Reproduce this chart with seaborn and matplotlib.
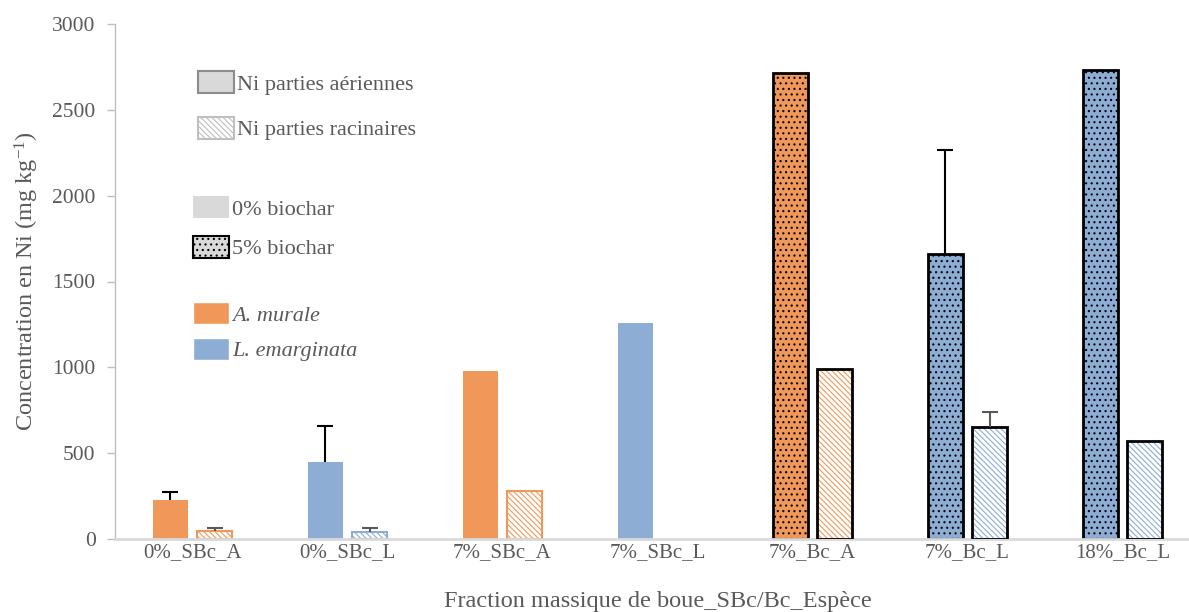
import numpy as np
import pandas as pd
import matplotlib
matplotlib.use("Agg")
import matplotlib.pyplot as plt
from matplotlib.patches import Patch, Rectangle
import seaborn as sns

# data
categories = ["0%_SBc_A", "0%_SBc_L", "7%_SBc_A", "7%_SBc_L", "7%_Bc_A", "7%_Bc_L", "18%_Bc_L"]
species = ["A", "L", "A", "L", "A", "L", "L"]
biochar = [0, 0, 0, 0, 5, 5, 5]
aerial = [225, 450, 978, 1260, 2712, 1660, 2730]
aerial_err = [50, 210, np.nan, np.nan, np.nan, 605, np.nan]
root = [45, 40, 280, 0, 990, 650, 572]
root_err = [20, 22, np.nan, np.nan, np.nan, 90, np.nan]
parts = ["Ni parties aériennes", "Ni parties racinaires"]

colors = {"A": "#F0985A", "L": "#8EADD5"}
text_col = "#595959"
root_hatch = "\\" * 6

sns.set_style("white")
plt.rcParams["font.family"] = ["Liberation Serif", "DejaVu Serif"]
plt.rcParams["mathtext.fontset"] = "custom"
plt.rcParams["mathtext.rm"] = "Liberation Serif"
plt.rcParams["mathtext.it"] = "Liberation Serif:italic"
plt.rcParams["hatch.linewidth"] = 0.8
plt.rcParams["text.color"] = text_col

df = pd.DataFrame({
    "cat": categories * 2,
    "part": [parts[0]] * len(categories) + [parts[1]] * len(categories),
    "value": aerial + root,
})

fig = plt.figure(figsize=(11.89, 6.12), dpi=100)
ax = fig.add_axes([115 / 1189, 73 / 612, 1085 / 1189, 515 / 612])

sns.barplot(data=df, x="cat", y="value", hue="part", order=categories,
            hue_order=parts, width=0.574, gap=0.21, errorbar=None,
            legend=False, ax=ax)

# style each bar by species, plant part and biochar
for pi, cont in enumerate(ax.containers):
    for j, bar in enumerate(cont):
        c = colors[species[j]]
        h = bar.get_height()
        if h == 0:
            bar.set_visible(False)
            continue
        if pi == 0:
            bar.set_facecolor(c)
            if biochar[j] == 5:
                bar.set_hatch("...")
                bar.set_edgecolor("black")
                bar.set_linewidth(2)
            else:
                bar.set_edgecolor(c)
                bar.set_linewidth(0)
        else:
            bar.set_facecolor("white")
            bar.set_hatch(root_hatch)
            bar.set_edgecolor(c)
            bar.set_linewidth(1.5)
            if biochar[j] == 5:
                bar.set_linewidth(0)
                ax.add_patch(Rectangle((bar.get_x(), 0), bar.get_width(), h,
                                       fill=False, edgecolor="black", lw=2, zorder=3))

# error bars (upper side only)
for cont, vals, errs, ecol in [(ax.containers[0], aerial, aerial_err, "black"),
                               (ax.containers[1], root, root_err, "#595959")]:
    for bar, v, e in zip(cont, vals, errs):
        if np.isnan(e):
            continue
        xc = bar.get_x() + bar.get_width() / 2
        _, caps, _ = ax.errorbar(xc, v, yerr=[[0], [e]], fmt="none", ecolor=ecol,
                                 elinewidth=1.5, capsize=6, capthick=1.5, zorder=4)
        caps[0].set_visible(False)

ax.set_xlim(-0.5, 6.5)
ax.set_ylim(0, 3000)
ax.set_yticks(np.arange(0, 3001, 500))
ax.set_xticks(np.arange(-0.5, 7, 1), minor=True)
ax.tick_params(axis="x", which="major", length=0, labelsize=15, labelcolor=text_col, pad=3)
ax.tick_params(axis="x", which="minor", length=8, width=1.5, color="#D9D9D9", direction="out")
ax.tick_params(axis="y", length=6, width=1, color="#BFBFBF", labelsize=15.5,
               labelcolor=text_col, direction="out", pad=8, left=True)
for s in ["top", "right"]:
    ax.spines[s].set_visible(False)
ax.spines["left"].set_color("#BFBFBF")
ax.spines["left"].set_linewidth(1)
ax.spines["bottom"].set_color("#D9D9D9")
ax.spines["bottom"].set_linewidth(2)

ax.set_xlabel("Fraction massique de boue_SBc/Bc_Espèce", fontsize=17.5, color=text_col, labelpad=21)
ax.set_ylabel("Concentration en Ni (mg kg$^{-1}$)", fontsize=17.5, color=text_col, labelpad=8)

# legends
leg_kw = dict(loc="upper left", frameon=False, fontsize=16, borderpad=0,
              borderaxespad=0, handlelength=1.6, handleheight=1.15,
              handletextpad=0.15, labelcolor=text_col)
h1 = [Patch(facecolor="#D9D9D9", edgecolor="#8C8C8C", lw=1.5),
      Patch(facecolor="white", edgecolor="#BFBFBF", hatch=root_hatch, lw=1.5)]
fig.legend(h1, parts, bbox_to_anchor=(198 / 1189, 1 - 71 / 612),
           labelspacing=1.0, **leg_kw)
h2 = [Patch(facecolor="#D9D9D9", edgecolor="none"),
      Patch(facecolor="#D9D9D9", edgecolor="black", hatch="...", lw=1.5)]
fig.legend(h2, ["0% biochar", "5% biochar"], bbox_to_anchor=(193 / 1189, 1 - 196 / 612),
           labelspacing=0.73, **leg_kw)
h3 = [Patch(facecolor=colors["A"]), Patch(facecolor=colors["L"])]
leg3 = fig.legend(h3, ["A. murale", "L. emarginata"], bbox_to_anchor=(193 / 1189, 1 - 302 / 612),
                  labelspacing=0.55, **leg_kw)
for t in leg3.get_texts():
    t.set_fontstyle("italic")

fig.savefig("out.png", dpi=100)
